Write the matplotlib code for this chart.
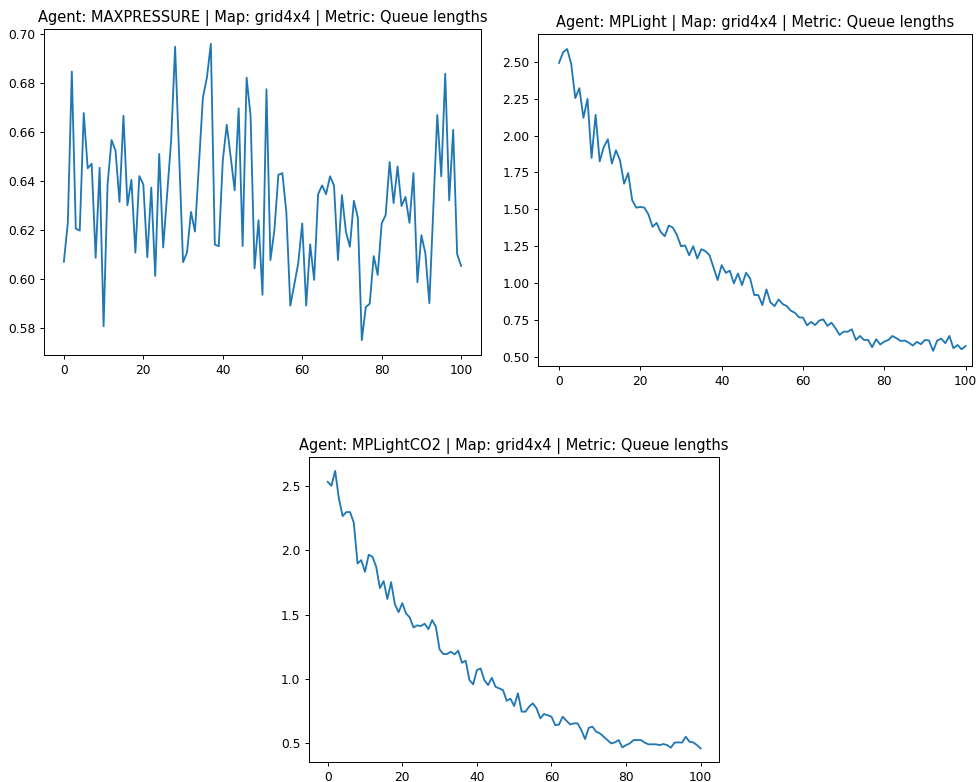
import matplotlib
matplotlib.use("Agg")
import matplotlib.pyplot as plt

episodes = list(range(101))

maxpressure_queue = [
    0.607, 0.623, 0.6845, 0.6205, 0.6197, 0.6676, 0.6451, 0.6469, 0.6086, 0.6453,
    0.5807, 0.6385, 0.6566, 0.6523, 0.6314, 0.6665, 0.630, 0.6404, 0.6107, 0.6419,
    0.6385, 0.6088, 0.6372, 0.6012, 0.6509, 0.6128, 0.6346, 0.6564, 0.6946, 0.651,
    0.6068, 0.6108, 0.6273, 0.6193, 0.6466, 0.6739, 0.682, 0.6958, 0.614, 0.6133,
    0.6482, 0.6628, 0.6496, 0.6361, 0.6695, 0.6134, 0.682, 0.6665, 0.6043, 0.6239,
    0.5935, 0.6773, 0.6077, 0.6199, 0.6424, 0.6431, 0.6273, 0.5891, 0.5976, 0.6064,
    0.6226, 0.5891, 0.6141, 0.5996, 0.6345, 0.6381, 0.6345, 0.6418, 0.6381, 0.6077,
    0.6341, 0.6192, 0.6131, 0.6318, 0.625, 0.575, 0.5885, 0.5899, 0.6093, 0.6016,
    0.6226, 0.626, 0.6476, 0.6309, 0.6458, 0.6297, 0.6334, 0.6228, 0.6431, 0.5986,
    0.6178, 0.6104, 0.5901, 0.6285, 0.6668, 0.6418, 0.6836, 0.632, 0.6607, 0.6101,
    0.6053,
]

mplight_queue = [
    2.491, 2.563, 2.585, 2.484, 2.253, 2.32, 2.12, 2.248, 1.848, 2.14,
    1.825, 1.922, 1.974, 1.81, 1.90, 1.832, 1.674, 1.746, 1.562, 1.512,
    1.517, 1.512, 1.465, 1.382, 1.409, 1.348, 1.319, 1.391, 1.377, 1.326,
    1.251, 1.256, 1.19, 1.251, 1.168, 1.231, 1.218, 1.19, 1.107, 1.022,
    1.123, 1.071, 1.085, 1.0, 1.067, 0.988, 1.072, 1.033, 0.921, 0.921,
    0.853, 0.959, 0.871, 0.846, 0.891, 0.86, 0.846, 0.815, 0.801, 0.77,
    0.768, 0.716, 0.739, 0.718, 0.748, 0.756, 0.712, 0.734, 0.696, 0.651,
    0.673, 0.673, 0.689, 0.617, 0.644, 0.617, 0.617, 0.568, 0.622, 0.586,
    0.606, 0.617, 0.644, 0.628, 0.61, 0.613, 0.599, 0.579, 0.604, 0.588,
    0.617, 0.613, 0.543, 0.613, 0.626, 0.595, 0.644, 0.561, 0.583, 0.554,
    0.576,
]

mplightco2_queue = [
    2.534, 2.503, 2.619, 2.404, 2.267, 2.298, 2.298, 2.215, 1.898, 1.924,
    1.833, 1.966, 1.95, 1.872, 1.706, 1.761, 1.621, 1.753, 1.582, 1.519,
    1.589, 1.509, 1.478, 1.40, 1.416, 1.411, 1.429, 1.387, 1.457, 1.405,
    1.229, 1.193, 1.193, 1.211, 1.19, 1.219, 1.125, 1.141, 0.99, 0.957,
    1.068, 1.081, 0.99, 0.951, 1.008, 0.938, 0.925, 0.912, 0.829, 0.845,
    0.788, 0.887, 0.744, 0.744, 0.783, 0.809, 0.77, 0.692, 0.726, 0.716,
    0.705, 0.64, 0.643, 0.705, 0.674, 0.645, 0.653, 0.653, 0.601, 0.531,
    0.619, 0.627, 0.588, 0.575, 0.549, 0.523, 0.497, 0.505, 0.523, 0.466,
    0.484, 0.497, 0.523, 0.523, 0.523, 0.503, 0.49, 0.49, 0.49, 0.484,
    0.492, 0.484, 0.464, 0.503, 0.505, 0.503, 0.549, 0.51, 0.505, 0.484,
    0.458,
]

agents = ["MAXPRESSURE", "MPLight", "MPLightCO2"]
map_name = "grid4x4"
metric = "Queue lengths"

# the reference looks like a bigger figure shrunk down, so render at a lower dpi
DPI = 88


def plot_agent(ax, agent, values):
    ax.plot(episodes, values)
    ax.set_title(f"Agent: {agent} | Map: {map_name} | Metric: {metric}")


def start():
    fig = plt.figure(figsize=(978 / DPI, 782 / DPI), dpi=DPI)

    # axes placed by hand to follow the reference layout
    ax1 = fig.add_axes([0.045, 0.546, 0.4468, 0.4169])
    ax2 = fig.add_axes([0.5504, 0.532, 0.4432, 0.4246])
    ax3 = fig.add_axes([0.316, 0.0252, 0.4195, 0.3904])

    plot_agent(ax1, agents[0], maxpressure_queue)
    plot_agent(ax2, agents[1], mplight_queue)
    plot_agent(ax3, agents[2], mplightco2_queue)

    ax2.set_xlim(-5.1, 101.5)

    fig.savefig("out.png", dpi=DPI)
    plt.close(fig)


if __name__ == "__main__":
    start()
